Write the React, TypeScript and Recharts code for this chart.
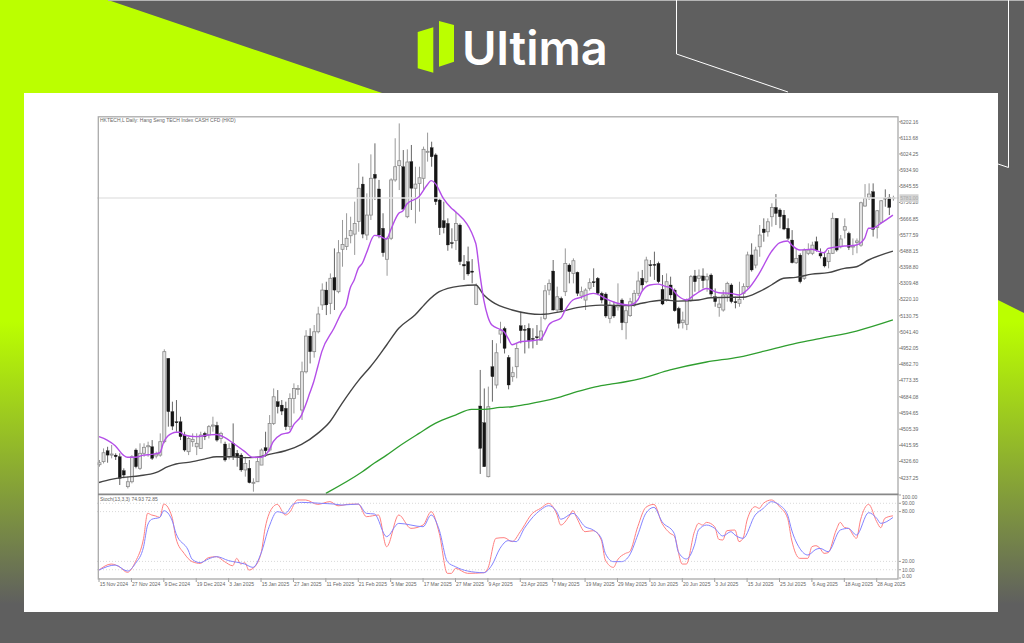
import React from "react";
import { ComposedChart, Bar, Line, XAxis, YAxis, ReferenceLine } from "recharts";

const titleText = "HKTECH,L Daily: Hang Seng TECH Index CASH CFD (HKD)";
const stochTitle = "Stoch(13,3,3) 74.93 72.85";
const brandName = "Ultima";

const priceTicks = [6202.16, 6113.68, 6024.25, 5934.9, 5845.55, 5756.28, 5666.85, 5577.59, 5488.15, 5398.8, 5309.48, 5220.1, 5130.75, 5041.4, 4952.05, 4862.7, 4773.35, 4684.08, 4594.65, 4505.39, 4415.95, 4326.6, 4237.25];
const lastPrice = 5781.0;
const stochTicks = [100, 90, 80, 20, 10, 0];
const stochLevels = [90, 80, 20, 10];
const dateLabels = ["15 Nov 2024", "27 Nov 2024", "9 Dec 2024", "19 Dec 2024", "3 Jan 2025", "15 Jan 2025", "27 Jan 2025", "11 Feb 2025", "21 Feb 2025", "5 Mar 2025", "17 Mar 2025", "27 Mar 2025", "9 Apr 2025", "23 Apr 2025", "7 May 2025", "19 May 2025", "29 May 2025", "10 Jun 2025", "20 Jun 2025", "3 Jul 2025", "15 Jul 2025", "25 Jul 2025", "6 Aug 2025", "18 Aug 2025", "28 Aug 2025"];

// [open, high, low, close]
const candlesNovJan = [
  [4309,4335,4298,4320],[4326,4399,4316,4375],[4386,4408,4320,4362],[4362,4418,4344,4368],[4362,4372,4335,4353],[4353,4372,4197,4234],[4276,4289,4234,4252],[4188,4243,4178,4215],[4215,4362,4206,4353],[4390,4399,4289,4298],
  [4289,4427,4280,4372],[4372,4427,4353,4405],[4408,4436,4353,4414],[4408,4445,4335,4344],[4357,4381,4344,4368],[4362,4482,4353,4436],[4436,4946,4427,4933],[4896,4896,4519,4602],[4602,4657,4500,4522],[4546,4666,4491,4541],
  [4546,4574,4445,4464],[4473,4491,4381,4390],[4381,4464,4362,4454],[4436,4482,4408,4449],[4408,4482,4362,4427],[4399,4491,4399,4473],[4482,4491,4445,4464],[4473,4528,4454,4519],[4522,4574,4491,4528],[4526,4546,4436,4445],
  [4454,4491,4427,4482],[4423,4436,4326,4335],[4353,4427,4338,4399],[4427,4537,4335,4353],[4372,4390,4298,4353],[4362,4372,4270,4280],[4280,4353,4243,4316],[4289,4335,4206,4210],[4208,4234,4160,4212],[4215,4353,4215,4326],
];
const candlesJanMar = [
  [4307,4399,4307,4390],[4403,4491,4353,4386],[4390,4583,4381,4537],[4537,4730,4528,4684],[4657,4721,4592,4629],[4638,4666,4583,4605],[4620,4657,4500,4519],[4519,4703,4500,4675],[4675,4758,4592,4730],[4725,4749,4694,4730],
  [4611,4878,4556,4822],[4822,5052,4813,5019],[5019,5062,4868,4933],[4933,5080,4900,5043],[5043,5181,5034,5141],[5191,5310,5163,5273],[5273,5319,5135,5191],[5200,5365,5140,5338],[5342,5503,5163,5273],[5264,5549,5255,5479],
  [5498,5660,5402,5525],[5513,5697,5494,5559],[5573,5678,5531,5601],[5582,5761,5467,5641],[5651,5973,5595,5835],[5858,5899,5559,5582],[5577,5807,5549,5687],[5687,6022,5660,5890],[5912,6083,5770,5890],[5831,5881,5559,5577],
  [5614,5697,5457,5479],[5443,5568,5352,5559],[5559,5890,5549,5881],[5881,6111,5871,5954],[5960,6193,5825,5987],[5954,6046,5715,5720],[5678,6050,5670,5980],[5982,6074,5715,5835],[5835,5954,5641,5858],[5862,5954,5706,5893],
];
const candlesMarMay = [
  [5890,6065,5825,6050],[6037,6142,5982,6039],[6059,6092,5954,6009],[6019,6028,5743,5761],[5770,5779,5577,5617],[5656,5761,5586,5617],[5641,5669,5490,5522],[5535,5614,5503,5531],[5546,5706,5494,5641],[5632,5641,5411,5430],
  [5415,5466,5329,5406],[5430,5513,5352,5362],[5378,5444,5310,5371],[5194,5310,5190,5297],[4633,4832,4258,4399],[4541,4730,4298,4298],[4243,4740,4239,4629],[4850,4997,4657,4795],[4749,4979,4730,4927],[5030,5098,4979,5052],
  [5061,5071,4923,4951],[4901,4914,4725,4749],[4795,4850,4767,4817],[4850,4979,4786,4951],[5076,5154,4979,5049],[5056,5080,4923,5052],[5062,5089,4951,4994],[5006,5062,4951,5003],[5015,5080,4970,5010],[4997,5126,4993,5047],
  [5117,5301,5107,5269],[5273,5332,5245,5310],[5378,5439,5160,5163],[5163,5292,5150,5236],[5227,5237,5150,5163],[5264,5503,5240,5420],[5411,5420,5310,5375],[5365,5448,5310,5435],[5371,5375,5240,5255],[5240,5292,5225,5264],
];
const candlesMayJul = [
  [5218,5283,5163,5273],[5283,5338,5270,5314],[5319,5393,5290,5314],[5338,5345,5245,5255],[5255,5264,5200,5218],[5251,5260,5120,5130],[5117,5210,5090,5190],[5190,5210,5120,5130],[5180,5310,5160,5190],[5218,5227,5052,5093],
  [5093,5181,5001,5159],[5132,5230,5125,5209],[5190,5273,5180,5255],[5255,5375,5240,5323],[5338,5384,5270,5301],[5319,5457,5310,5439],[5413,5439,5347,5411],[5415,5485,5329,5411],[5420,5430,5310,5319],[5277,5356,5190,5196],
  [5218,5365,5209,5319],[5301,5347,5227,5246],[5273,5282,5154,5159],[5172,5181,5061,5089],[5093,5154,5061,5107],[5084,5227,5052,5218],[5218,5356,5209,5347],[5351,5384,5264,5319],[5338,5387,5264,5351],[5351,5393,5282,5325],
  [5329,5365,5264,5347],[5356,5365,5236,5251],[5236,5282,5181,5209],[5177,5227,5126,5196],[5163,5273,5154,5246],[5246,5319,5209,5310],[5301,5310,5200,5209],[5209,5236,5172,5205],[5200,5319,5181,5222],[5255,5310,5218,5292],
];
const candlesJulAug = [
  [5292,5485,5282,5467],[5467,5531,5375,5384],[5411,5512,5393,5494],[5512,5632,5457,5577],[5610,5669,5540,5590],[5595,5669,5568,5650],[5678,5752,5623,5729],[5729,5803,5632,5696],[5715,5724,5614,5678],[5687,5715,5604,5610],
  [5614,5669,5549,5558],[5549,5604,5420,5424],[5424,5503,5417,5448],[5466,5476,5310,5319],[5338,5503,5329,5494],[5476,5531,5466,5494],[5476,5540,5466,5521],[5540,5568,5485,5494],[5476,5503,5448,5461],[5453,5485,5398,5406],
  [5430,5494,5393,5476],[5476,5700,5472,5669],[5669,5669,5485,5494],[5512,5577,5503,5555],[5604,5669,5558,5623],[5586,5595,5494,5509],[5512,5558,5466,5516],[5536,5558,5476,5544],[5521,5761,5512,5755],[5737,5858,5733,5779],
  [5785,5862,5770,5803],[5816,5862,5568,5608],[5619,5715,5558,5711],[5647,5770,5641,5766],[5781,5829,5733,5777],[5785,5803,5687,5729],[5781,5794,5766,5783],
];

// [bar, value] points
const fastMa = [[0,4464],[2,4445],[4,4414],[6,4362],[7,4350],[9,4350],[11,4362],[13,4366],[15,4375],[16,4436],[17,4467],[18,4482],[19,4488],[20,4488],[21,4473],[24,4464],[27,4473],[29,4476],[31,4460],[33,4430],[36,4381],[38,4350],[40,4350],[41,4362],[42,4390],[43,4436],[45,4476],[47,4488],[48,4528],[50,4583],[51,4638],[52,4703],[53,4767],[54,4850],[55,4933],[58,5062],[60,5154],[61,5190],[62,5283],[63,5329],[64,5393],[65,5421],[66,5476],[68,5575],[69,5573],[71,5555],[72,5605],[74,5697],[75,5709],[76,5748],[79,5789],[81,5853],[82,5877],[83,5862],[85,5779],[87,5725],[88,5706],[93,5531],[94,5365],[95,5218],[96,5126],[97,5080],[99,5056],[100,5043],[101,5006],[102,4971],[104,4988],[106,4992],[109,5001],[110,5034],[111,5080],[112,5098],[114,5117],[115,5159],[117,5218],[119,5233],[122,5255],[123,5251],[125,5227],[128,5200],[131,5190],[133,5218],[134,5264],[136,5301],[138,5306],[140,5292],[141,5288],[143,5240],[145,5218],[147,5246],[150,5282],[153,5258],[156,5255],[158,5246],[160,5273],[163,5365],[166,5485],[168,5534],[170,5544],[171,5522],[173,5494],[176,5498],[179,5479],[180,5503],[184,5516],[187,5522],[189,5558],[190,5614],[191,5614],[193,5641],[196,5687]];
const midMa = [[0,4211],[3,4228],[6,4239],[10,4248],[14,4265],[17,4298],[19,4313],[22,4322],[26,4340],[29,4353],[33,4353],[36,4348],[39,4350],[42,4366],[46,4386],[50,4421],[54,4482],[57,4546],[60,4648],[64,4772],[67,4850],[68,4878],[71,4970],[74,5062],[78,5135],[81,5209],[84,5264],[89,5295],[93,5301],[95,5246],[97,5209],[102,5163],[106,5144],[109,5139],[114,5154],[118,5176],[124,5190],[131,5187],[134,5200],[136,5209],[140,5218],[143,5212],[148,5218],[151,5231],[156,5233],[159,5233],[163,5264],[166,5301],[169,5338],[172,5343],[176,5361],[180,5369],[184,5393],[187,5402],[190,5439],[196,5488]];
const slowMa = [[56,4151],[65,4270],[68,4318],[71,4362],[74,4410],[79,4482],[83,4537],[88,4583],[92,4614],[95,4614],[99,4625],[102,4629],[106,4644],[109,4657],[114,4684],[118,4712],[122,4736],[126,4752],[130,4767],[134,4786],[141,4832],[150,4876],[158,4903],[166,4946],[172,4979],[179,5010],[187,5047],[196,5108]];

const stochRed = [[0,9.6],[3,16.8],[5,13.6],[7,6.8],[9,19.7],[11,47.8],[12,77.9],[13,75.9],[14,74.7],[15,73],[16,89.1],[18,73.9],[19,47.8],[21,29.7],[23,19.7],[25,17.6],[27,24.5],[29,25.7],[31,19.7],[33,14.8],[34,23.7],[35,16.8],[36,18.5],[37,9.6],[38,11.6],[40,29.7],[41,59.8],[43,85.9],[44,88.7],[46,75.9],[47,78.7],[49,94],[51,94],[54,88.7],[57,92],[59,87],[62,89],[64,89],[66,73.9],[69,75.9],[71,37.7],[74,75.9],[77,59.8],[80,63.8],[82,79.9],[84,53.8],[86,5.6],[87,5.6],[88,11.6],[91,5.6],[95,6.4],[96,11.6],[98,47.8],[100,48.6],[102,43.8],[104,55.8],[107,77.9],[109,83.9],[111,89.9],[113,77.1],[114,63.8],[116,73.9],[117,81.1],[118,71.9],[120,55.8],[122,57],[124,45.8],[125,21.7],[127,12.8],[128,21.7],[130,29.7],[131,31.7],[133,61.8],[135,85.1],[137,88.7],[139,65.8],[141,53.8],[142,50.6],[144,16.8],[145,16.8],[147,55.8],[148,65.8],[149,63.8],[150,67],[152,61.8],[153,46.6],[154,45.8],[155,57],[157,57.8],[158,43.8],[159,47.8],[160,69.9],[162,85.9],[163,83.9],[164,89.9],[166,94],[168,85.9],[170,71.9],[171,45.8],[173,23.7],[175,23.7],[176,37.7],[177,38.9],[178,35.7],[179,29.7],[180,30.5],[182,57.8],[183,67],[184,61],[185,59.8],[187,47.8],[188,69.9],[190,88.7],[192,67.8],[193,60.6],[194,71.9],[196,74.9]];
const stochBlue = [[0,9.6],[4,15.6],[7,8.4],[9,17.6],[11,37.7],[12,63.8],[13,70.7],[15,73],[16,81.1],[18,69.9],[19,53.8],[22,33.7],[23,22.5],[25,18.5],[27,22.9],[29,25.7],[32,20.9],[36,16.8],[38,12.8],[40,29.7],[42,61.8],[44,79.9],[46,77.9],[48,89.1],[50,91.1],[55,89.9],[58,89.1],[60,87.9],[64,89.1],[66,77.9],[68,77.1],[71,49.8],[74,65.8],[80,61.8],[82,75.9],[84,57.8],[86,19.7],[88,13.6],[91,8.4],[95,6.4],[97,15.6],[99,35.7],[101,45],[103,43.8],[105,59.8],[108,77.9],[109,81.9],[111,87.1],[113,79.9],[114,70.7],[117,77.9],[120,61.8],[122,57.8],[124,47.8],[125,29.7],[127,19.7],[129,19.7],[131,27.7],[133,51.8],[135,77.9],[137,85.1],[139,67.8],[142,53.8],[143,31.7],[145,22.9],[147,39.7],[148,57.8],[150,63.8],[152,59.8],[154,50.6],[156,55.8],[157,51.8],[159,47.8],[162,75.9],[164,83.9],[166,91.9],[168,87.9],[170,75.9],[171,57.8],[173,35.7],[175,27.7],[177,34.5],[178,35.7],[180,31.7],[183,57.8],[185,59.8],[187,51.8],[190,78.7],[192,71.9],[193,65.8],[196,72.9]];

const candles = [...candlesNovJan, ...candlesJanMar, ...candlesMarMay, ...candlesMayJul, ...candlesJulAug];
const BAR_SLOTS = 198;
const fastMap = new Map(fastMa as [number, number][]);
const midMap = new Map(midMa as [number, number][]);
const slowMap = new Map(slowMa as [number, number][]);
const redMap = new Map(stochRed as [number, number][]);
const blueMap = new Map(stochBlue as [number, number][]);

const rows = Array.from({ length: BAR_SLOTS }, (_, idx) => {
  const c = candles[idx];
  return {
    idx,
    open: c ? c[0] : null,
    high: c ? c[1] : null,
    low: c ? c[2] : null,
    close: c ? c[3] : null,
    range: c ? [c[2], c[1]] : null,
    fast: fastMap.get(idx) ?? null,
    mid: midMap.get(idx) ?? null,
    slow: slowMap.get(idx) ?? null,
    red: redMap.get(idx) ?? null,
    blue: blueMap.get(idx) ?? null,
  };
});
const dateTicks = dateLabels.map((_, i) => i * 8);

const FONT = "'Liberation Sans', Arial, sans-serif";
const TEXT = "#666";

function Candle(props: any) {
  const { x, y, width, height, payload } = props;
  if (!payload || payload.high == null || !height) return null;
  const h = Math.abs(height);
  const scale = h / (payload.high - payload.low);
  const py = (v: number) => y + (payload.high - v) * scale;
  const cx = x + width / 2;
  const bull = payload.close >= payload.open;
  const top = py(Math.max(payload.open, payload.close));
  const bottom = py(Math.min(payload.open, payload.close));
  return (
    <g>
      <line x1={cx} x2={cx} y1={y} y2={y + h} stroke={bull ? "#999" : "#666"} strokeWidth={1} />
      <rect
        x={x}
        y={top}
        width={width}
        height={Math.max(bottom - top, 1)}
        fill={bull ? "#e2e2e2" : "#151515"}
        stroke={bull ? "#8a8a8a" : "#151515"}
        strokeWidth={bull ? 0.8 : 0.3}
      />
    </g>
  );
}

function PriceTick(props: any) {
  const { x, y, payload } = props;
  const isLast = payload.value === lastPrice;
  return (
    <g>
      {isLast ? <rect x={x + 0.5} y={y - 3.8} width={19} height={7.6} fill="#d4d4d4" /> : <line x1={x} x2={x + 1.5} y1={y} y2={y} stroke="#888" strokeWidth={0.8} />}
      <text x={x + 1.3} y={y + 1.8} fontSize={5} fontFamily={FONT} fill={isLast ? "#aaa" : TEXT}>
        {payload.value.toFixed(2)}
      </text>
    </g>
  );
}

function StochTick(props: any) {
  const { x, y, payload } = props;
  const shift = payload.value === 100 ? 2.3 : payload.value === 0 ? -2 : 0;
  return (
    <g>
      <line x1={x} x2={x + 2} y1={y} y2={y} stroke="#888" strokeWidth={0.8} />
      <text x={x + 3} y={y + 1.8 + shift} fontSize={5} fontFamily={FONT} fill={TEXT}>
        {payload.value.toFixed(2)}
      </text>
    </g>
  );
}

function DateTick(props: any) {
  const { x, y, payload } = props;
  return (
    <g>
      <line x1={x} x2={x} y1={y - 1} y2={y + 3} stroke="#888" strokeWidth={0.8} />
      <text x={x + 0.6} y={y + 6.6} fontSize={5} fontFamily={FONT} fill={TEXT}>
        {dateLabels[payload.value / 8]}
      </text>
    </g>
  );
}

function Backdrop() {
  return (
    <svg width={1024} height={643} style={{ position: "absolute", left: 0, top: 0 }}>
      <defs>
        <linearGradient id="lime" x1="0" y1="0" x2="0" y2="1">
          <stop offset="0.5" stopColor="#bbff00" />
          <stop offset="0.94" stopColor="#5f5f5f" />
        </linearGradient>
      </defs>
      <rect x={0} y={0} width={1024} height={643} fill="url(#lime)" />
      <polygon points="108,0 1024,0 1024,313 998,300 998,93 382,93" fill="#5f5f5f" />
      <rect x={0} y={612} width={1024} height={31} fill="#5f5f5f" />
      <rect x={108} y={0} width={916} height={1} fill="#b5b5b5" />
      <polyline points="676.5,0 676.5,54 788,92" fill="none" stroke="#fff" strokeWidth={1} />
      <polyline points="998,164 1008.5,167.5 1008.5,0" fill="none" stroke="#fff" strokeWidth={1} />
      <rect x={24} y={93} width={974} height={519} fill="#fff" />
      <polygon points="417.7,32 433.3,27.3 433.3,72.7 417.7,68.3" fill="#bbff00" />
      <polygon points="439,21 454,25 454,61.7 439,66.7" fill="#bbff00" />
      <text x={462} y={65} fontSize={47} fontWeight={600} fontFamily="Inter, sans-serif" fill="#fff">
        {brandName}
      </text>
    </svg>
  );
}

function Frame() {
  return (
    <svg width={1024} height={643} style={{ position: "absolute", left: 0, top: 0, pointerEvents: "none" }}>
      <rect x={98.3} y={116.8} width={799.7} height={462.2} fill="none" stroke="#aaa" strokeWidth={1.3} />
      <line x1={98} x2={898.5} y1={494.4} y2={494.4} stroke="#888" strokeWidth={1.8} />
      <text x={100} y={122} fontSize={5} fontFamily={FONT} fill={TEXT}>{titleText}</text>
      <text x={100} y={501} fontSize={5} fontFamily={FONT} fill={TEXT}>{stochTitle}</text>
    </svg>
  );
}

export default function App() {
  return (
    <div style={{ position: "absolute", left: 0, top: 0, width: 1024, height: 643, overflow: "hidden", background: "#fff" }}>
      <Backdrop />
      <div style={{ position: "absolute", left: 97, top: 117 }}>
        <ComposedChart width={830} height={377} data={rows} margin={{ top: 0, right: 0, bottom: 0, left: 0 }} barCategoryGap={0}>
          <XAxis dataKey="idx" hide />
          <YAxis
            orientation="right"
            width={28}
            domain={[4147.3, 6228.4]}
            allowDataOverflow
            ticks={[...priceTicks, lastPrice]}
            interval={0}
            axisLine={false}
            tickLine={false}
            tickSize={0}
            tickMargin={0}
            tick={<PriceTick />}
          />
          <ReferenceLine y={lastPrice} stroke="#e6e6e6" strokeWidth={1.5} />
          <Bar dataKey="range" barSize={3} shape={<Candle />} isAnimationActive={false} />
          <Line dataKey="slow" type="monotone" stroke="#2f9e2f" strokeWidth={1.3} dot={false} connectNulls isAnimationActive={false} />
          <Line dataKey="mid" type="monotone" stroke="#444" strokeWidth={1.4} dot={false} connectNulls isAnimationActive={false} />
          <Line dataKey="fast" type="monotone" stroke="#b44ee8" strokeWidth={1.4} dot={false} connectNulls isAnimationActive={false} />
        </ComposedChart>
      </div>
      <div style={{ position: "absolute", left: 97, top: 494 }}>
        <ComposedChart width={830} height={97} data={rows} margin={{ top: 0, right: 0, bottom: 0, left: 0 }}>
          <XAxis
            dataKey="idx"
            type="number"
            domain={[-0.5, 197.5]}
            allowDataOverflow
            ticks={dateTicks}
            interval={0}
            height={12}
            axisLine={false}
            tickLine={false}
            tickSize={0}
            tickMargin={0}
            tick={<DateTick />}
          />
          <YAxis
            orientation="right"
            width={28}
            domain={[-1.2, 101.2]}
            allowDataOverflow
            ticks={stochTicks}
            interval={0}
            axisLine={false}
            tickLine={false}
            tickSize={0}
            tickMargin={0}
            tick={<StochTick />}
          />
          {stochLevels.map((v) => (
            <ReferenceLine key={v} y={v} stroke="#c8c8c8" strokeWidth={0.7} strokeDasharray="1 2" />
          ))}
          <Line dataKey="red" type="monotone" stroke="#ff8080" strokeWidth={1} dot={false} connectNulls isAnimationActive={false} />
          <Line dataKey="blue" type="monotone" stroke="#8484ff" strokeWidth={1} dot={false} connectNulls isAnimationActive={false} />
        </ComposedChart>
      </div>
      <Frame />
    </div>
  );
}
